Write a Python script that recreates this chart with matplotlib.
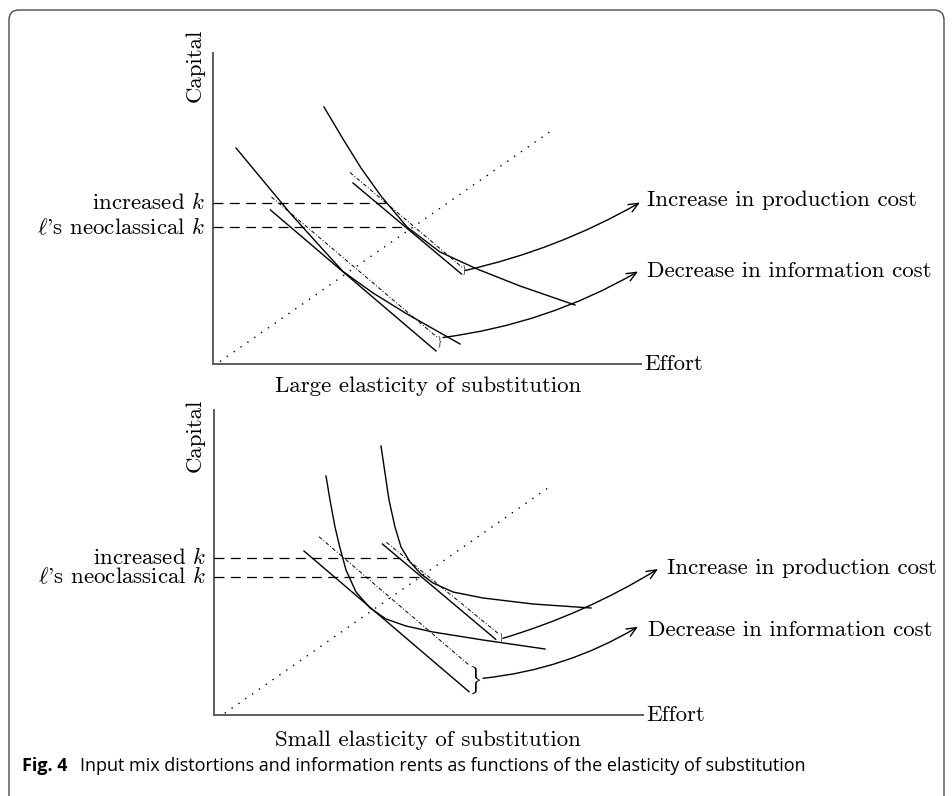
import matplotlib
matplotlib.use("Agg")
import matplotlib.pyplot as plt
from matplotlib.patches import FancyBboxPatch

plt.rcParams['mathtext.fontset'] = 'cm'
SERIF = 'cmr10'

# ---------------- data (effort, capital units; origin at the axes corner) ----------------
# Top panel: large elasticity of substitution
top_isoA_e = [111, 130, 148, 168, 194, 227, 264, 307, 362]
top_isoA_c = [257, 225, 196, 168, 137, 112, 95, 78, 59]
top_isoB_e = [23, 77, 104, 130, 160, 194, 247]
top_isoB_c = [216, 151, 121, 92.5, 71, 50, 20]
top_tanA_e = [140, 248.5]
top_tanA_c = [181, 90]
top_ddA_e = [137, 250]
top_ddA_c = [191.5, 96]
top_tanB_e = [57.5, 223]
top_tanB_c = [154, 13]
top_ddB_e = [58.5, 225]
top_ddB_c = [167, 26]
top_diag_e = [7, 338]
top_diag_c = [2.5, 233]
top_k_increased = 161
top_k_neoclassical = 137
top_k_ends = [177, 194]
top_arrow_prod = [(252, 93.5), (427, 161.5)]
top_arrow_info = [(230, 26.5), (425, 92.5)]
top_braces = [(251, 94), (226, 22)]

# Bottom panel: small elasticity of substitution
bot_isoC_e = [167, 171, 175, 181, 187, 196, 207, 219, 239, 269, 319, 377]
bot_isoC_c = [269, 242, 215, 188, 168, 153, 141, 132, 123, 117, 111, 107]
bot_isoD_e = [112, 116, 121, 126, 132, 142, 156, 172, 192, 219, 269, 331]
bot_isoD_c = [239, 215, 188, 167, 145, 123, 107, 96, 89, 83, 75, 66]
bot_tanC_e = [168.4, 281.7]
bot_tanC_c = [171, 75.7]
bot_ddC_e = [172.4, 284]
bot_ddC_c = [172.7, 81.7]
bot_tanD_e = [90, 255]
bot_tanD_c = [164, 23.3]
bot_ddD_e = [105, 255]
bot_ddD_c = [178.3, 50]
bot_diag_e = [10.7, 335.7]
bot_diag_c = [1.7, 228.3]
bot_k_increased = 157.3
bot_k_neoclassical = 138.3
bot_k_ends = [186, 209]
bot_arrow_prod = [(289, 76.7), (444, 146)]
bot_arrow_info = [(269, 36.7), (424, 88.3)]
bot_braces = [(286.7, 77, 6), (260.5, 35, 17)]

lbl_increased = r"increased $k$"
lbl_neoclassical = r"$\ell$'s neoclassical $k$"
lbl_prod = "Increase in production cost"
lbl_info = "Decrease in information cost"
caption_bold = "Fig. 4"
caption_text = "Input mix distortions and information rents as functions of the elasticity of substitution"

# ---------------- figure ----------------
W, H = 952, 796
fig = plt.figure(figsize=(W / 100, H / 100), dpi=100)
base = fig.add_axes([0, 0, 1, 1])
base.set_xlim(0, W)
base.set_ylim(H, 0)
base.axis('off')
base.add_patch(FancyBboxPatch((9, 10), 935, 820, boxstyle="round,pad=0,rounding_size=10",
                              fill=False, ec='#4a4a4a', lw=1.0, clip_on=False))
base.text(22, 766, caption_bold, fontsize=13, fontweight='bold', family='Open Sans',
          va='center', ha='left')
base.text(80, 766, caption_text, fontsize=13, family='Open Sans', va='center', ha='left')

AXC = '#5c5c5c'
FS = 16.5


def panel(ox, oy, d):
    ax = fig.add_axes([ox / W, 1 - oy / H, 460 / W, 330 / H])
    ax.set_xlim(0, 460)
    ax.set_ylim(0, 330)
    ax.axis('off')
    kw = dict(clip_on=False)
    ax.plot([0, 0], [0, d['ytop']], color=AXC, lw=1.4, **kw)
    ax.plot([0, d['xend']], [0, 0], color=AXC, lw=1.4, **kw)
    ax.plot(d['isoA'][0], d['isoA'][1], color='k', lw=1.0, **kw)
    ax.plot(d['isoB'][0], d['isoB'][1], color='k', lw=1.0, **kw)
    ax.plot(d['tanA'][0], d['tanA'][1], color='k', lw=1.0, **kw)
    ax.plot(d['tanB'][0], d['tanB'][1], color='k', lw=1.0, **kw)
    ax.plot(d['ddA'][0], d['ddA'][1], color='k', lw=0.7, ls=(0, (4, 2, 1, 2)), **kw)
    ax.plot(d['ddB'][0], d['ddB'][1], color='k', lw=0.7, ls=(0, (4, 2, 1, 2)), **kw)
    ax.plot(d['diag'][0], d['diag'][1], color='k', lw=1.0, ls=(0, (1, 5)), **kw)
    for kval, xe in zip(d['k'], d['kend']):
        ax.plot([0, xe], [kval, kval], color='k', lw=0.9, ls=(0, (8, 5)), **kw)
    ax.text(-8, d['k'][0], lbl_increased, ha='right', va='center', fontsize=FS, family=SERIF)
    ax.text(-8, d['k'][1], lbl_neoclassical, ha='right', va='center', fontsize=FS, family=SERIF)
    for (s, e), rad in zip([d['aprod'], d['ainfo']], d['rads']):
        ax.annotate("", xy=e, xytext=s,
                    arrowprops=dict(arrowstyle="->,head_length=0.7,head_width=0.3",
                                    connectionstyle=f"arc3,rad={rad}", lw=1.0, color='k',
                                    shrinkA=0, shrinkB=0, mutation_scale=10))
    for b in d['braces']:
        ax.text(b[0], b[1], r"$\}$", fontsize=b[2], ha='center', va='center', rotation=d['brot'])
    ax.text(d['prod_lbl'][0], d['prod_lbl'][1], lbl_prod, ha='left', va='center', fontsize=FS, family=SERIF)
    ax.text(d['info_lbl'][0], d['info_lbl'][1], lbl_info, ha='left', va='center', fontsize=FS, family=SERIF)
    ax.text(d['xend'] + 3, 0, "Effort", ha='left', va='center', fontsize=FS, family=SERIF)
    ax.text(d['cap'][0], d['cap'][1], "Capital", ha='center', va='center', rotation=90,
            fontsize=FS, family=SERIF)
    ax.text(d['title'][0], d['title'][1], d['title_txt'], ha='center', va='center', fontsize=FS,
            family=SERIF)
    return ax


panel(213, 364, dict(
    ytop=311, xend=428,
    isoA=(top_isoA_e, top_isoA_c), isoB=(top_isoB_e, top_isoB_c),
    tanA=(top_tanA_e, top_tanA_c), tanB=(top_tanB_e, top_tanB_c),
    ddA=(top_ddA_e, top_ddA_c), ddB=(top_ddB_e, top_ddB_c),
    diag=(top_diag_e, top_diag_c),
    k=[top_k_increased, top_k_neoclassical], kend=top_k_ends,
    aprod=top_arrow_prod, ainfo=top_arrow_info, rads=[0.075, 0.1],
    braces=[(top_braces[0][0], top_braces[0][1], 6), (top_braces[1][0], top_braces[1][1], 7)],
    brot=0,
    prod_lbl=(434, 164), info_lbl=(434, 93),
    cap=(-18, 299), title=(215, -22), title_txt="Large elasticity of substitution"))

panel(214, 715, dict(
    ytop=305, xend=429,
    isoA=(bot_isoC_e, bot_isoC_c), isoB=(bot_isoD_e, bot_isoD_c),
    tanA=(bot_tanC_e, bot_tanC_c), tanB=(bot_tanD_e, bot_tanD_c),
    ddA=(bot_ddC_e, bot_ddC_c), ddB=(bot_ddD_e, bot_ddD_c),
    diag=(bot_diag_e, bot_diag_c),
    k=[bot_k_increased, bot_k_neoclassical], kend=bot_k_ends,
    aprod=bot_arrow_prod, ainfo=bot_arrow_info, rads=[0.065, 0.11],
    braces=bot_braces, brot=0,
    prod_lbl=(453, 147), info_lbl=(434, 85),
    cap=(-19, 280), title=(214, -25), title_txt="Small elasticity of substitution"))

fig.savefig("out.png", dpi=100)
